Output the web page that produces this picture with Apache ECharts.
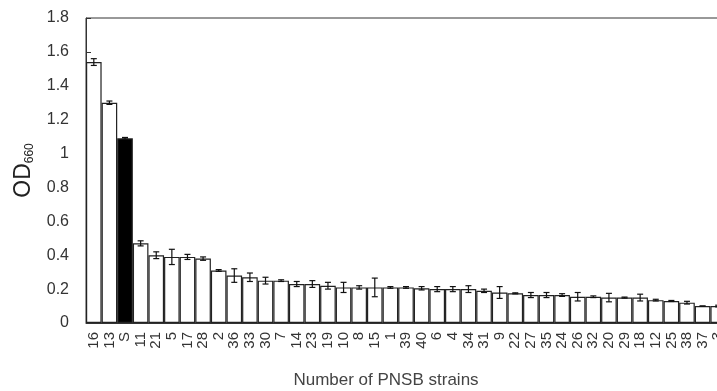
<!DOCTYPE html>
<html>
<head>
<meta charset="utf-8">
<script src="https://cdn.jsdelivr.net/npm/echarts@6/dist/echarts.min.js"></script>
<style>
    html, body { margin: 0; padding: 0; background: #fff; overflow: hidden; }
    #chart { width: 726px; height: 391px; }
</style>
</head>
<body>
<div id="chart"></div>
<script>
/*OD660 of PNSB strains*/

var strains = ['16', '13', 'S', '11', '21', '5', '17', '28', '2', '36', '33', '30', '7', '14', '23', '19', '10', '8', '15', '1',
    '39', '40', '6', '4', '34', '31', '9', '22', '27', '35', '24', '26', '32', '20', '29', '18', '12', '25', '38', '37', '3'];

var odValues = [1.54, 1.30, 1.09, 0.47, 0.40, 0.39, 0.39, 0.38, 0.31, 0.28, 0.27, 0.25, 0.25, 0.23, 0.23, 0.22, 0.21, 0.21, 0.21, 0.21,
    0.21, 0.205, 0.20, 0.20, 0.20, 0.19, 0.18, 0.175, 0.165, 0.165, 0.165, 0.155, 0.155, 0.15, 0.15, 0.15, 0.135, 0.13, 0.12, 0.10, 0.10];

var odErrors = [0.02, 0.01, 0.005, 0.015, 0.02, 0.045, 0.015, 0.01, 0.005, 0.04, 0.025, 0.02, 0.005, 0.015, 0.02, 0.02, 0.03, 0.01, 0.055, 0.005,
    0.005, 0.01, 0.015, 0.015, 0.02, 0.01, 0.035, 0.003, 0.015, 0.015, 0.008, 0.025, 0.005, 0.025, 0.003, 0.02, 0.005, 0.003, 0.008, 0, 0.005];

var highlight = 'S';    //对照菌株

function drawChart() {
    var chart = echarts.init(document.getElementById('chart'));

    var option = {
        animation: false,
        textStyle: {
            fontFamily: '"Liberation Sans", Arial, sans-serif'
        },
        grid: {
            left: 86,
            top: 18,
            bottom: 68,
            right: 0,
            show: true,
            borderColor: '#333',
            borderWidth: 1
        },
        graphic: [
            {
                type: 'text',
                x: 386,
                y: 380,
                style: {
                    text: 'Number of PNSB strains',
                    font: '17px "Liberation Sans", Arial, sans-serif',
                    fill: '#444',
                    textAlign: 'center',
                    textVerticalAlign: 'middle'
                }
            }
        ],
        xAxis: {
            type: 'category',
            data: strains,
            axisLine: {
                lineStyle: { color: '#333', width: 1 }
            },
            axisTick: {
                show: false
            },
            axisLabel: {
                interval: 0,
                rotate: 90,
                margin: 9,
                fontSize: 15,
                color: '#333'
            }
        },
        yAxis: {
            type: 'value',
            min: 0,
            max: 1.8,
            interval: 0.2,
            axisLine: {
                show: true,
                lineStyle: { color: '#333', width: 1 }
            },
            axisTick: {
                show: true,
                inside: true,
                length: 5,
                lineStyle: { color: '#333' }
            },
            splitLine: {
                show: false
            },
            axisLabel: {
                margin: 17,
                fontSize: 16,
                color: '#333',
                formatter: function (v) {
                    return String(Math.round(v * 10) / 10);
                }
            },
            name: '{a|OD}{b|660}',
            nameLocation: 'middle',
            nameRotate: 90,
            nameGap: 50,
            nameTextStyle: {
                rich: {
                    a: { fontSize: 23, color: '#222', verticalAlign: 'top', lineHeight: 24 },
                    b: { fontSize: 12, color: '#222', verticalAlign: 'bottom', lineHeight: 8 }
                }
            }
        },
        series: [
            {
                type: 'bar',
                barWidth: '100%',
                data: odValues.map(function (v, i) {
                    var isS = strains[i] == highlight;
                    return {
                        value: v,
                        itemStyle: {
                            color: isS ? '#000' : '#fff',
                            borderColor: '#222',
                            borderWidth: 1.2
                        }
                    };
                })
            },
            {
                type: 'custom',
                data: odValues.map(function (v, i) {
                    return [i, v - odErrors[i], v + odErrors[i]];
                }),
                renderItem: function (params, api) {
                    var x = api.value(0);
                    var lo = api.coord([x, api.value(1)]);
                    var hi = api.coord([x, api.value(2)]);
                    var w = 3;
                    var style = { stroke: '#111', lineWidth: 1.2 };
                    return {
                        type: 'group',
                        children: [
                            { type: 'line', shape: { x1: hi[0], y1: hi[1], x2: lo[0], y2: lo[1] }, style: style },
                            { type: 'line', shape: { x1: hi[0] - w, y1: hi[1], x2: hi[0] + w, y2: hi[1] }, style: style },
                            { type: 'line', shape: { x1: lo[0] - w, y1: lo[1], x2: lo[0] + w, y2: lo[1] }, style: style }
                        ]
                    };
                },
                z: 5
            }
        ]
    };

    chart.setOption(option);
}

drawChart();
</script>
</body>
</html>
